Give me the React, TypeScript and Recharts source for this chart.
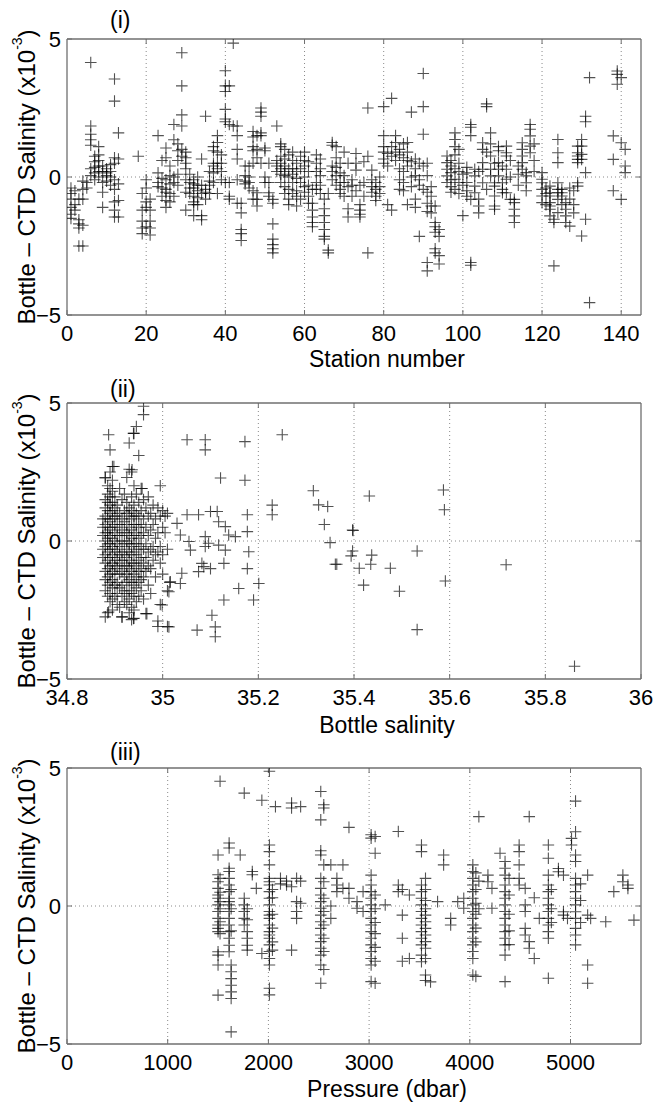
import { ScatterChart, Scatter, XAxis, YAxis, ReferenceLine } from "recharts";

type Group = [number, number[]];
type Pt = { x: number; y: number };

// ---- data (differences in units of 1e-3) ----
const diffTicks = [-5, 0, 5];
const stationTicks = [0, 20, 40, 60, 80, 100, 120, 140];
const salinityTicks = [34.8, 35, 35.2, 35.4, 35.6, 35.8, 36];
const pressureTicks = [0, 1000, 2000, 3000, 4000, 5000];

// station number -> bottle minus CTD values
const stationGroups: Group[] = [
  [1, [-0.4, -0.6, -0.8, -1.1, -1.35, -1.5]],
  [2, [-0.5, -1.0, -1.2]],
  [3, [-1.55, -1.7, -1.85, -2.5, -0.8]],
  [4, [-0.15, -0.45, -0.8, -1.75, -2.5]],
  [5, [-0.2, -0.4]],
  [6, [4.15, 1.85, 1.55, 1.35, 1.15, 0.3, 0.05]],
  [7, [0.75, 0.55, 0.35, 0.15, -0.1]],
  [8, [1.1, 0.8, 0.6, 0.4, 0.2, 0.0]],
  [9, [0.4, 0.2, -0.2, -0.55, -1.1]],
  [10, [0.3, 0.15, 0.05, -0.15]],
  [11, [0.45, 0.2, 0.0, -0.3]],
  [12, [3.55, 2.75, 0.7, 0.5, -0.1, -0.45, -0.9, -1.2, -1.45]],
  [13, [1.6, 0.65, -0.25, -0.85, -1.45]],
  [18, [0.75]],
  [19, [-0.6, -1.2, -1.6, -1.85, -2.05]],
  [20, [-0.1, -0.4, -0.9, -1.1, -1.8]],
  [21, [-0.8, -1.2, -1.85, -2.1, -1.6]],
  [23, [1.5, 0.15, -0.2, -0.35]],
  [24, [0.6, -0.05, -0.4, -0.7]],
  [25, [1.05, 0.7, -0.1, -0.45, -0.55, -0.85, -1.1]],
  [26, [0.4, 0.05, -0.25, -0.6, -0.9]],
  [27, [1.9, 1.35, 0.0, -0.2, -0.7]],
  [28, [1.2, 0.95, 0.6, 0.1, -0.3]],
  [29, [4.5, 3.3, 2.25, 1.85, 1.0, 0.75]],
  [30, [0.9, 0.7, 0.5, 0.3, -0.1, -0.55, -1.2]],
  [31, [0.1, -0.2, -0.4, -0.6]],
  [32, [-0.1, -0.25, -0.4, -0.7, -0.9, -1.0, -1.4]],
  [33, [0.0, -0.3, -0.5, -0.75, -1.0]],
  [34, [0.65, -0.3, -0.6, -1.4, -1.55]],
  [35, [2.2, -0.45, -0.55, -0.8]],
  [36, [0.2, -0.15, -0.3, -0.6]],
  [37, [1.1, 0.95, 0.5, 0.4, 0.15, -0.2]],
  [38, [1.5, 1.25, 0.9, 0.5, 0.3, -0.6]],
  [39, [0.8, 0.5, 0.2, -0.1]],
  [40, [3.85, 3.3, 3.1, 2.45, 2.1, 2.0, -0.2]],
  [41, [3.3, 1.9, -0.2, -0.7, -0.8]],
  [42, [4.85, 1.85]],
  [43, [1.85, 1.5, 1.0, 0.65, -0.1, -0.95]],
  [44, [-0.95, -1.3, -1.9, -2.05, -2.3]],
  [45, [0.4, 0.05, -0.15, -0.25]],
  [46, [0.4, 0.0, -0.2, -0.4]],
  [47, [1.65, 1.45, 1.1, 0.95, 0.5, -0.5, -0.8]],
  [48, [1.5, 1.0, 0.7, -0.57, -0.81, -1.05]],
  [49, [2.5, 2.35, 2.2, 1.6, 1.5, 0.5]],
  [50, [1.05, 0.95, 0.0, -0.2]],
  [51, [0.5, -0.2, -0.57, -0.7]],
  [52, [-0.81, -0.95, -1.7, -2.25, -2.45, -2.6, -2.75]],
  [53, [1.85, 0.6, 0.4, 0.2]],
  [54, [1.2, 1.1, 0.75, 0.5, 0.3, 0.1, -0.2]],
  [55, [1.0, 0.65, 0.4, 0.2, 0.05, -0.35, -0.6]],
  [56, [0.8, 0.3, 0.0, -0.45, -0.8, -1.0]],
  [57, [0.9, 0.6, 0.3, 0.1, -0.2, -0.6]],
  [58, [0.5, 0.2, -0.05, -0.5, -0.7, -1.05]],
  [59, [0.75, 0.3, -0.2, -0.8]],
  [60, [0.9, 0.6, 0.4, 0.0, -0.35, -0.55]],
  [61, [0.55, 0.2, -0.3, -0.7, -0.95]],
  [62, [-0.45, -0.95, -1.2, -1.45, -1.65, -1.8]],
  [63, [0.8, 0.5, 0.2, -0.2, -0.45]],
  [64, [0.65, 0.3, 0.05, -0.3, -0.6]],
  [65, [-0.8, -1.15, -1.4, -1.65, -1.9, -2.15, -2.25]],
  [66, [-2.65, -2.75, -0.6]],
  [67, [1.25, 1.15, 0.4, 0.2, -0.1]],
  [68, [1.1, 0.7, 0.35, 0.05, -0.3]],
  [69, [0.5, 0.15, -0.2, -0.45, -0.6]],
  [70, [0.9, 0.05, -0.2, -0.7]],
  [71, [0.5, -0.35, -1.15, -1.45]],
  [72, [-0.1, -0.3, -0.7]],
  [73, [0.85, 0.5, 0.25, -0.5]],
  [74, [-0.3, -1.0, -1.2, -1.35, -1.45]],
  [75, [0.55, -0.2, -0.7]],
  [76, [2.5, 0.75, -2.75]],
  [77, [0.25, -0.1, -0.35, -0.55]],
  [78, [-0.2, -0.45, -0.7, -0.85]],
  [79, [0.0, -0.35, -0.6]],
  [80, [2.55, 1.5, 1.1, 0.9, 0.65, 0.5]],
  [81, [0.85, 0.4, -1.0]],
  [82, [2.85, 1.1, 0.75, -1.2]],
  [83, [1.5, 1.25, 0.9, 0.6]],
  [84, [1.0, 0.8, 0.3, -0.1, -0.45]],
  [85, [1.2, 0.7, 0.2, -0.2, -0.5]],
  [86, [1.25, 0.9, 0.6, 0.4, -1.0]],
  [87, [2.35, 0.55, 0.0, -0.35]],
  [88, [0.65, 0.3, 0.05, -0.8, -1.1]],
  [89, [0.5, -0.1, -0.3, -2.15]],
  [90, [3.75, 2.55, 1.55, 0.4, -0.45]],
  [91, [0.5, 0.05, -0.55, -0.95, -1.25, -3.1, -3.4]],
  [92, [-0.35, -0.7, -1.05, -1.3]],
  [93, [-1.05, -1.65, -1.8, -2.0, -2.6, -2.75]],
  [94, [-1.9, -2.15, -2.85, -3.15]],
  [96, [0.76, 0.52, 0.28, 0.04, -0.2]],
  [97, [0.6, 0.4, 0.16, -0.1, -0.35, -0.55]],
  [98, [1.6, 1.36, 1.1, 0.8, 0.3, -0.08, -0.45]],
  [99, [1.0, 0.5, 0.2, -0.2, -0.6]],
  [100, [-1.4, 0.1, -0.3]],
  [101, [0.35, 0.15, -0.2, -0.5, -0.7]],
  [102, [1.9, 1.8, 1.5, -3.1, -3.2, -0.81]],
  [103, [0.28, 0.04, -0.33, -0.57]],
  [104, [-0.8, -1.05, -1.3, 0.2]],
  [105, [1.24, 1.0, 0.52, 0.28, -0.21]],
  [106, [2.65, 2.55, 0.9, -0.45]],
  [107, [1.6, 1.2, 0.76, 0.28, 0.04]],
  [108, [0.5, -0.21, -0.33, -0.69, -1.05, -1.17]],
  [109, [1.1, 0.95, 0.52, 0.28, 0.04]],
  [110, [0.4, -0.21, -0.45, -0.57]],
  [111, [1.12, 0.88, 0.76, 0.28, -0.08, -0.57]],
  [112, [0.6, 0.0, -0.81]],
  [113, [-0.81, -0.93, -1.17, -1.41, -1.65]],
  [114, [0.4, 0.1, -0.3]],
  [115, [1.24, 1.0, 0.76, 0.52, 0.28]],
  [116, [0.16, 0.04, -0.21, -0.5]],
  [117, [1.9, 1.73, 1.49, 1.12, 0.88]],
  [118, [1.2, 0.6, 0.2]],
  [120, [0.16, -0.08, -0.21, -0.45, -0.69, -0.93]],
  [121, [-0.4, -0.6, -1.0]],
  [122, [-0.33, -0.57, -0.69, -0.93, -1.05, -1.17, -1.41]],
  [123, [-1.53, -1.65, -3.22]],
  [124, [1.36, 0.88, 0.52, -0.21, -0.45, -0.57, -0.81, -1.29]],
  [125, [-0.45, -0.57, -0.69, -1.0]],
  [126, [-0.93, -1.17, -1.41, -1.65]],
  [127, [-0.4, -0.8, -1.78]],
  [128, [-0.5, -1.0, -1.3]],
  [129, [1.12, 0.88, 0.76, 0.64, 0.52, -0.21, -0.33]],
  [130, [1.36, 1.12, 0.82, 0.64, -2.14]],
  [131, [2.2, 2.0, 0.16, -1.53]],
  [132, [3.6, -4.55]],
  [138, [1.49, 0.64, -0.5]],
  [139, [3.84, 3.72, 3.36]],
  [140, [3.6, 1.24, -0.81]],
  [141, [1.0, 0.4, 0.16]],
];

// bottle salinity -> values (dense cluster read column by column)
const salinityGroups: Group[] = [
  [34.875, [0.8, 0.5, 0.2, -0.3, -0.6]],
  [34.88, [2.3, 1.5, 1.2, 0.9, 0.6, 0.3, 0.0, -0.2, -0.5, -0.8, -1.1, -1.4, -1.8, -2.75]],
  [34.885, [2.0, 1.7, 1.4, 1.1, 0.8, 0.5, 0.3, 0.1, -0.1, -0.4, -0.7, -1.0, -1.3, -1.6, -2.0, -2.6]],
  [34.89, [3.3, 2.5, 1.9, 1.6, 1.3, 1.0, 0.7, 0.4, 0.2, -0.1, -0.3, -0.6, -0.9, -1.2, -1.5, -1.9, -2.2]],
  [34.895, [2.7, 2.2, 1.8, 1.4, 1.1, 0.8, 0.5, 0.1, -0.2, -0.5, -0.8, -1.1, -1.4, -1.7, -2.1, -2.5]],
  [34.9, [1.6, 1.2, 0.9, 0.6, 0.3, 0.0, -0.3, -0.6, -0.9, -1.2, -1.6, -2.0]],
  [34.905, [1.3, 0.9, 0.5, 0.2, -0.1, -0.4, -0.7, -1.0, -1.5, -1.9, -2.3]],
  [34.91, [1.9, 1.0, 0.6, 0.2, -0.2, -0.5, -0.8, -1.2, -1.7, -2.4]],
  [34.915, [1.5, 0.8, 0.4, 0.0, -0.4, -0.7, -1.1, -1.6, -2.0, -2.75]],
  [34.92, [1.7, 1.1, 0.7, 0.3, -0.1, -0.5, -0.9, -1.3, -1.8, -2.2]],
  [34.925, [2.3, 1.4, 1.0, 0.6, 0.3, 0.0, -0.3, -0.6, -0.9, -1.2, -1.5, -1.9, -2.3]],
  [34.93, [3.55, 2.6, 1.2, 0.9, 0.5, 0.2, -0.1, -0.4, -0.7, -1.0, -1.4, -1.8, -2.1, -2.6]],
  [34.935, [2.5, 1.6, 1.1, 0.8, 0.4, 0.1, -0.2, -0.5, -0.8, -1.1, -1.5, -1.9, -2.4, -2.85]],
  [34.94, [3.9, 2.0, 1.3, 0.9, 0.6, 0.2, -0.1, -0.4, -0.8, -1.2, -1.6, -2.0, -2.5, -2.8]],
  [34.945, [4.15, 1.7, 1.0, 0.6, 0.3, -0.1, -0.5, -0.9, -1.3, -1.7, -2.2]],
  [34.95, [3.1, 1.4, 0.9, 0.5, 0.1, -0.3, -0.7, -1.1, -1.5, -2.0]],
  [34.955, [1.9, 1.1, 0.6, 0.2, -0.2, -0.6, -1.0, -1.4, -1.8]],
  [34.96, [4.88, 4.58, 1.5, 0.8, 0.3, -0.3, -0.8, -1.3, -2.1]],
  [34.965, [1.2, 0.5, -0.1, -0.6, -1.1, -2.63]],
  [34.97, [1.6, 0.9, 0.2, -0.4, -0.9, -1.6]],
  [34.975, [1.0, 0.4, -0.3, -1.0, -1.9]],
  [34.98, [1.3, 0.6, -0.2, -0.7]],
  [34.985, [0.8, 0.1, -0.5, -1.3]],
  [34.99, [1.2, 0.3, -0.4, -2.9, -3.1]],
  [34.995, [2.0, 0.9, -0.2, -0.8, -2.3]],
  [35.0, [1.1, 0.5, -0.5, -1.2]],
  [35.005, [0.9, 0.3]],
  [35.01, [1.0, -0.3, -1.8, -3.1]],
  [35.015, [-1.5]],
];

// scattered high-salinity points [salinity, value]
const salinityOutliers: [number, number][] = [
  [34.887, 3.85], [34.939, 3.9], [34.898, 2.7], [34.936, 2.58], [34.88, 2.28], [34.957, 1.9],
  [35.051, 3.67], [35.089, 3.67], [35.089, 3.3], [35.172, 3.6], [35.25, 3.85], [35.121, 2.28],
  [35.172, 2.2], [35.229, 1.3], [35.229, 0.95], [35.177, 0.95], [35.177, 0.34], [35.152, 0.16],
  [35.138, 0.22], [35.131, 0.52], [35.117, 0.7], [35.1, 1.07], [35.114, 1.07], [35.075, 0.95],
  [35.051, 0.95], [35.03, 0.64], [35.037, 0.22], [35.055, -0.02], [35.058, -0.33], [35.089, 0.16],
  [35.096, -0.08], [35.089, -0.2], [35.117, -0.15], [35.131, -0.33], [35.18, -0.39], [35.177, -1.0],
  [35.082, -0.81], [35.086, -0.93], [35.075, -1.11], [35.1, -1.0], [35.128, -0.81], [35.04, -1.17],
  [35.037, -1.54], [35.016, -1.48], [35.013, -1.84], [35.159, -1.72], [35.201, -1.54], [35.19, -2.14],
  [35.128, -2.14], [34.999, -2.32], [34.967, -2.63], [35.013, -3.11], [35.072, -3.23], [35.103, -2.69],
  [35.11, -3.11], [35.11, -3.47], [34.939, -2.81], [34.915, -2.75], [34.887, -2.57],
  [35.315, 1.82], [35.326, 1.31], [35.345, 1.25], [35.338, 0.6], [35.35, -0.06], [35.364, -0.84],
  [35.361, -0.84], [35.397, 0.4], [35.398, 0.38], [35.397, -0.36], [35.394, -0.54], [35.411, -0.99],
  [35.42, -1.6], [35.432, 1.63], [35.437, -0.51], [35.435, -0.84], [35.476, -0.99], [35.495, -1.82],
  [35.532, -0.36], [35.532, -3.21], [35.587, 1.85], [35.589, 1.13], [35.591, -1.45], [35.718, -0.86],
  [35.861, -4.54],
];

// pressure (dbar) -> values
const pressureGroups: Group[] = [
  [1500, [1.85, 1.13, 0.88, 0.64, 0.4, 0.28, 0.04, -0.2, -0.45, -0.69, -0.81, -0.93, -1.66, -1.78, -2.14, -3.23]],
  [1520, [4.52, 1.0, 0.5, 0.16, -0.1, -0.57, -1.0]],
  [1610, [2.28, 2.1, 1.37, 1.25, 1.0, 0.76, 0.52, 0.28, 0.16, 0.04, -0.2, -0.45, -0.69, -0.93, -1.17, -1.42, -1.66]],
  [1630, [0.6, -0.1, -0.9, -2.14, -2.38, -2.63, -2.87, -3.11, -3.35, -4.56]],
  [1720, [1.85]],
  [1760, [4.09, 0.28, 0.04, -0.2, -0.45, -0.69]],
  [1790, [-0.1, -0.5, -0.93, -1.17, -1.42, -1.6]],
  [1840, [1.25, 1.13]],
  [1880, [0.64]],
  [1935, [3.83, -1.72]],
  [2010, [4.88, 2.21, 1.97, 1.49, 1.0, 0.88, 0.76, 0.52, 0.28, 0.04, -0.2, -0.33, -0.45, -0.69, -0.93, -1.05, -1.17, -1.41, -1.65, -1.9, -2.14, -2.98, -3.22]],
  [2040, [0.6, 0.3, -0.3, -0.8, -1.3, -1.6]],
  [2070, [3.6]],
  [2120, [1.0, 0.8]],
  [2180, [0.9, 0.76]],
  [2230, [3.73, 3.55, 0.7, -1.6]],
  [2280, [1.0, 0.16, -0.2, -0.45]],
  [2320, [3.6, 0.9, 0.1]],
  [2520, [4.15, 3.12, 2.0, 1.85, 1.0, 0.64, 0.4, 0.16, -0.08, -0.33, -0.57, -0.81, -1.05, -1.29, -1.53, -1.78, -2.14, -2.8]],
  [2550, [3.67, 3.55, 1.49, 0.88, 0.28, -0.2, -0.69, -1.17, -1.65, -2.3]],
  [2620, [1.49, 0.0, -0.45]],
  [2680, [1.0, 0.76, 0.52]],
  [2740, [1.49, 0.64]],
  [2800, [2.85, 0.64, 0.28]],
  [2880, [0.16, -0.08]],
  [2940, [0.52, -0.2]],
  [3020, [2.58, 2.46, 1.12, 0.76, 0.52, 0.28, 0.04, -0.2, -0.45, -0.69, -0.93, -1.17, -1.41, -1.65, -1.9, -2.14, -2.74]],
  [3060, [2.52, 1.91, 0.4, -0.1, -0.6, -1.0, -1.5, -2.0, -2.8]],
  [3160, [0.04]],
  [3290, [2.7, 0.76, 0.52]],
  [3330, [0.6, -0.33, -1.17, -2.0]],
  [3400, [-1.9, 0.4]],
  [3520, [2.21, 1.97, 0.76, 0.52, 0.28, 0.04, -0.2, -0.45, -0.69, -0.93, -1.17, -1.41, -1.78, -2.02]],
  [3560, [1.0, 0.6, 0.2, -0.1, -0.33, -0.57, -0.81, -1.05, -1.29, -1.53, -1.9, -2.5, -2.7]],
  [3610, [-2.75]],
  [3680, [0.16]],
  [3740, [1.85, 1.49]],
  [3810, [-0.45, -0.69]],
  [3880, [0.16]],
  [3940, [-0.08, 0.28]],
  [4030, [1.49, 1.25, 1.0, 0.76, 0.52, 0.28, 0.04, -0.2, -0.45, -0.69, -0.93, -1.17, -1.41, -1.65, -1.9, -2.5]],
  [4060, [1.2, 0.6, 0.1, -0.3, -0.8, -1.3, -2.55]],
  [4090, [3.24, 0.9, -0.1]],
  [4180, [1.12, 0.88]],
  [4220, [0.64, -0.08]],
  [4300, [1.91]],
  [4350, [1.61, 1.37, 1.12, 0.76, 0.52, 0.28, 0.04, -0.2, -0.45, -0.69, -0.93, -1.17, -1.41, -1.78, -2.74]],
  [4390, [1.0, 0.4, -0.3, -0.9, -1.4]],
  [4490, [2.21, 1.97, 1.49, 1.0, 0.76]],
  [4550, [0.64, 0.04, -0.2, -0.81, -1.05]],
  [4590, [3.24, -1.29, -1.53]],
  [4640, [-1.9, 0.3]],
  [4690, [-0.45]],
  [4780, [2.21, 1.73, 1.12, 0.76, 0.52, 0.28, 0.04, -0.2, -0.45, -0.69, -0.93, -1.17, -2.62]],
  [4810, [0.6, -0.1, -0.6]],
  [4880, [1.36, 1.24]],
  [4930, [1.12, -0.21, -0.33]],
  [4970, [-0.45]],
  [5010, [2.45, 2.21]],
  [5050, [3.8, 2.69, 1.85, 1.61, 1.0, 0.76, 0.52, 0.28, 0.04, -0.21, -0.45, -0.81, -1.05, -1.41]],
  [5100, [0.8, 0.2, -0.6]],
  [5170, [1.12, -0.33, -2.14, -2.8]],
  [5200, [-0.45]],
  [5350, [-0.57]],
  [5430, [0.52]],
  [5520, [1.12, 0.88]],
  [5570, [0.76, 0.64]],
  [5630, [-0.51]],
];

const FONT = '"Liberation Sans", Arial, Helvetica, sans-serif';
const FRAME = "#6f6f6f";
const GRID = "#8a8a8a";

function expand(groups: Group[]): Pt[] {
  return groups.flatMap(([x, ys]) => ys.map((y) => ({ x, y })));
}

const stationData = expand(stationGroups);
const salinityData = [
  ...expand(salinityGroups),
  ...salinityOutliers.map(([x, y]) => ({ x, y })),
];
const pressureData = expand(pressureGroups);

function PlusMark(props: any) {
  const { cx, cy } = props;
  if (cx == null || cy == null) return null;
  const r = 5.8;
  return (
    <path
      d={`M${cx - r},${cy}H${cx + r}M${cx},${cy - r}V${cy + r}`}
      stroke="#000"
      strokeOpacity={0.68}
      strokeWidth={1.1}
      fill="none"
    />
  );
}

// dotted vertical grid line plus the inward tick on the top frame
function VGrid(props: any) {
  const { x1, y1, y2 } = props;
  const top = Math.min(y1, y2);
  const bottom = Math.max(y1, y2);
  return (
    <g>
      <line x1={x1} x2={x1} y1={top} y2={bottom} stroke={GRID} strokeDasharray="1 3" />
      <line x1={x1} x2={x1} y1={top} y2={top + 5} stroke={FRAME} />
    </g>
  );
}

// dotted zero line plus the inward tick on the right frame
function HGrid(props: any) {
  const { x1, x2, y1 } = props;
  const left = Math.min(x1, x2);
  const right = Math.max(x1, x2);
  return (
    <g>
      <line x1={left} x2={right} y1={y1} y2={y1} stroke={GRID} strokeDasharray="1 3" />
      <line x1={right - 5} x2={right} y1={y1} y2={y1} stroke={FRAME} />
    </g>
  );
}

function YTitle(props: any) {
  const vb = props.viewBox || { y: 39, height: 276 };
  const cx = 26;
  const cy = vb.y + vb.height / 2;
  return (
    <text
      x={cx}
      y={cy}
      transform={`rotate(-90 ${cx} ${cy})`}
      textAnchor="middle"
      dominantBaseline="central"
      fontSize={24}
      fontFamily={FONT}
      fill="#000"
    >
      Bottle – CTD Salinity (x10
      <tspan dy={-9} fontSize={14}>
        -3
      </tspan>
      <tspan dy={9}>)</tspan>
    </text>
  );
}

function XTitle(props: any) {
  const vb = props.viewBox || { y: 315 };
  return (
    <text
      x={387}
      y={vb.y + props.offsetY}
      textAnchor="middle"
      dominantBaseline="central"
      fontSize={23}
      fontFamily={FONT}
      fill="#000"
    >
      {props.text}
    </text>
  );
}

const fmtDiff = (v: number) => (v < 0 ? `−${Math.abs(v)}` : String(v));

interface PanelProps {
  tag: string;
  top: number;
  height: number;
  data: Pt[];
  domain: [number, number];
  ticks: number[];
  xLabel: string;
  labelOffset: number;
  tagTop: number;
}

function Panel({ tag, top, height, data, domain, ticks, xLabel, labelOffset, tagTop }: PanelProps) {
  const tickStyle = { fill: "#000", fontSize: 22, fontFamily: FONT };
  const axisHeight = height - 39 - 276;
  return (
    <>
      <div
        style={{
          position: "absolute",
          left: 110,
          top: tagTop,
          fontFamily: FONT,
          fontSize: 23,
          lineHeight: "24px",
        }}
      >
        {tag}
      </div>
      <div style={{ position: "absolute", left: 0, top }}>
        <ScatterChart
          width={654}
          height={height}
          margin={{ top: 39, right: 13, bottom: 0, left: 0 }}
        >
          <XAxis
            dataKey="x"
            type="number"
            domain={domain}
            ticks={ticks}
            allowDataOverflow
            height={axisHeight}
            tick={tickStyle}
            tickSize={-5}
            tickMargin={15}
            axisLine={{ stroke: FRAME, strokeWidth: 1.3 }}
            tickLine={{ stroke: FRAME }}
            label={<XTitle text={xLabel} offsetY={labelOffset} />}
          />
          <YAxis
            dataKey="y"
            type="number"
            domain={[-5, 5]}
            ticks={diffTicks}
            allowDataOverflow
            width={67}
            tick={tickStyle}
            tickFormatter={fmtDiff}
            tickSize={-5}
            tickMargin={11}
            axisLine={{ stroke: FRAME, strokeWidth: 1.3 }}
            tickLine={{ stroke: FRAME }}
            label={<YTitle />}
          />
          {ticks
            .filter((t) => t > domain[0] && t < domain[1])
            .map((t) => (
              <ReferenceLine key={t} x={t} shape={VGrid} />
            ))}
          <ReferenceLine y={0} shape={HGrid} />
          <ReferenceLine y={5} stroke={FRAME} strokeWidth={1.3} ifOverflow="visible" />
          <ReferenceLine x={domain[1]} stroke={FRAME} strokeWidth={1.3} ifOverflow="visible" />
          <Scatter data={data} shape={PlusMark} isAnimationActive={false} />
        </ScatterChart>
      </div>
    </>
  );
}

export default function App() {
  return (
    <div style={{ position: "relative", width: 654, height: 1110, background: "#fff" }}>
      <style>{"body{margin:0;background:#fff}"}</style>
      <Panel
        tag="(i)"
        top={0}
        height={380}
        data={stationData}
        domain={[0, 145]}
        ticks={stationTicks}
        xLabel="Station number"
        labelOffset={44}
        tagTop={8}
      />
      <Panel
        tag="(ii)"
        top={364}
        height={382}
        data={salinityData}
        domain={[34.8, 36]}
        ticks={salinityTicks}
        xLabel="Bottle salinity"
        labelOffset={46}
        tagTop={377}
      />
      <Panel
        tag="(iii)"
        top={729}
        height={381}
        data={pressureData}
        domain={[0, 5700]}
        ticks={pressureTicks}
        xLabel="Pressure (dbar)"
        labelOffset={45}
        tagTop={740}
      />
    </div>
  );
}
